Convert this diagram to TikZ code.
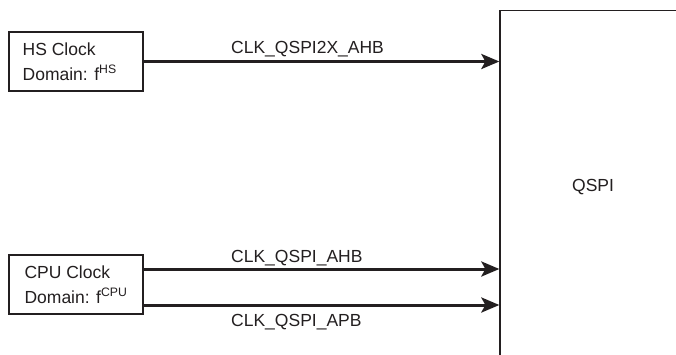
\documentclass[tikz,border=0pt]{standalone}
\usepackage{fontspec}
\setmainfont{Liberation Sans}
\definecolor{ink}{HTML}{231F20}
\usetikzlibrary{positioning, arrows.meta}

\begin{document}
\begin{tikzpicture}[x=1pt, y=1pt,
  clkbox/.style={draw=ink, line width=2.2pt, fill=white, minimum width=134pt,
                 minimum height=59pt, inner xsep=4pt,
                 align=left, font=\fontsize{17.5}{25}\selectfont, text=ink},
  block/.style={draw=ink, line width=1.3pt, minimum width=200pt,
                minimum height=360pt, inner sep=0pt},
  sig/.style={draw=ink, line width=3pt,
              -{Stealth[length=18pt, width=15pt, inset=4pt]}},
  siglabel/.style={font=\fontsize{17.5}{21}\selectfont, text=ink,
                   anchor=base west, inner sep=0pt},
]
\clip (0,0) rectangle (676,-354);
\fill[white] (0,0) rectangle (676,-354);

% clock domains
\node[clkbox] (hs) at (76,-61.5) {HS Clock\\Domain: f\textsuperscript{HS}\hphantom{U}};
\node[clkbox] (cpu) at (76,-284.5) {CPU Clock\\Domain: f\textsuperscript{CPU}};

% peripheral
\node[block] (qspi) at (600,-190.7) {};
\node[siglabel] (qspitext) at (572,-191) {QSPI};

% clock signals
\coordinate (ahbout) at ([yshift=15.5pt]cpu.east);
\coordinate (apbout) at ([yshift=-20.5pt]cpu.east);
\draw[sig] (hs.east) -- (qspi.west |- hs.east);
\draw[sig] (ahbout) -- (qspi.west |- ahbout);
\draw[sig] (apbout) -- (qspi.west |- apbout);

\node[siglabel] (l2x) at (231,-53) {CLK\_QSPI2X\_AHB};
\node[siglabel] (lahb) at (231,-262) {CLK\_QSPI\_AHB};
\node[siglabel] (lapb) at (231,-326) {CLK\_QSPI\_APB};
\end{tikzpicture}
\end{document}
